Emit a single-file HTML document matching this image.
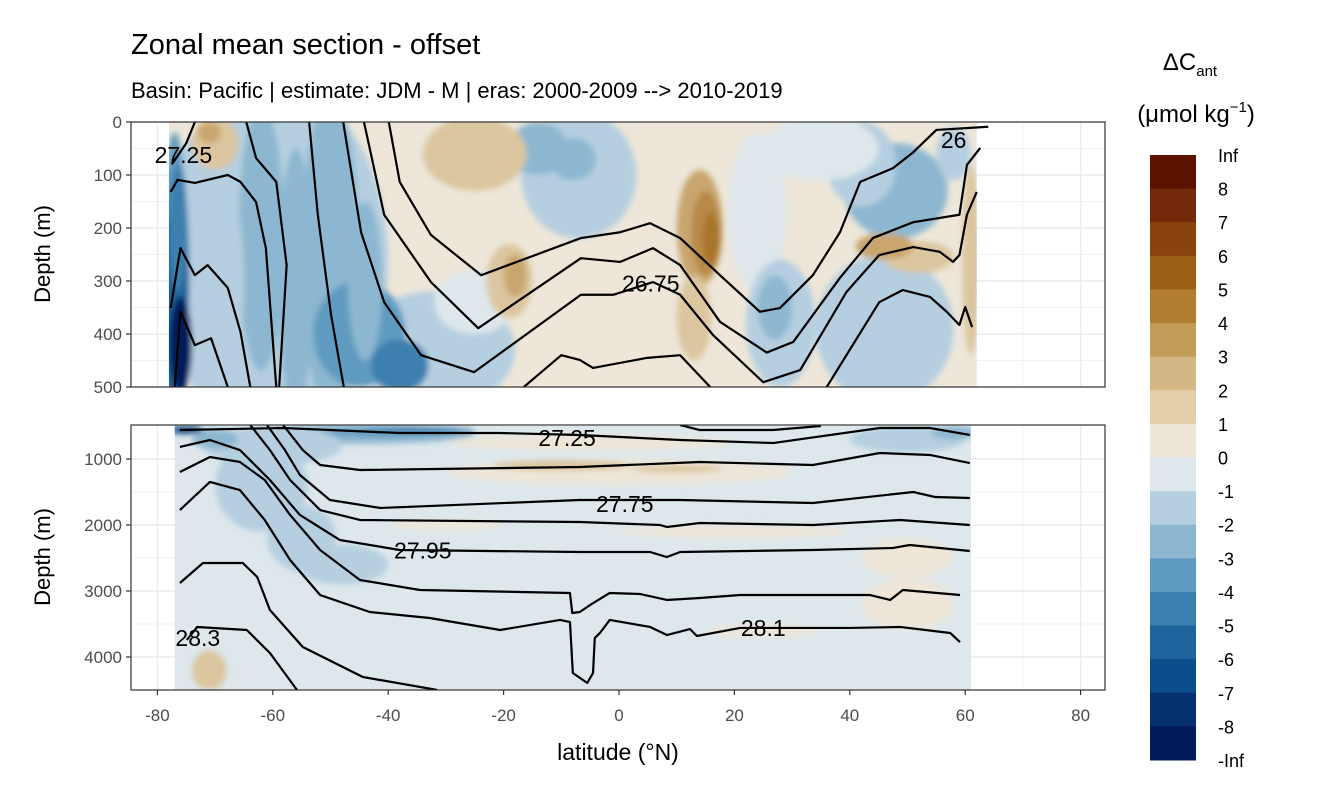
<!DOCTYPE html>
<html><head><meta charset="utf-8"><style>
html,body{margin:0;padding:0;background:#fff;}
svg{display:block;font-family:"Liberation Sans",sans-serif;}
</style></head><body>
<svg id="chart" width="1344" height="806" viewBox="0 0 1344 806" xmlns="http://www.w3.org/2000/svg">
<defs>
<filter id="blur" x="-20%" y="-20%" width="140%" height="140%"><feGaussianBlur stdDeviation="3"/></filter>
<clipPath id="clipTop"><rect x="131" y="122" width="974" height="265"/></clipPath>
<clipPath id="clipBot"><rect x="131" y="425" width="974" height="265"/></clipPath>
</defs>
<text x="131" y="54" font-size="29" fill="#000">Zonal mean section - offset</text>
<text x="131" y="98" font-size="22" fill="#000">Basin: Pacific | estimate: JDM - M | eras: 2000-2009 --&gt; 2010-2019</text>
<g id="panels"></g>
<text transform="translate(50,254) rotate(-90)" text-anchor="middle" font-size="22">Depth (m)</text>
<text transform="translate(50,557) rotate(-90)" text-anchor="middle" font-size="22">Depth (m)</text>
<text x="618" y="760" text-anchor="middle" font-size="23">latitude (°N)</text>
<text x="1190" y="70" text-anchor="middle" font-size="24">ΔC<tspan font-size="15" dy="6">ant</tspan></text>
<text x="1196" y="122" text-anchor="middle" font-size="24">(μmol kg<tspan font-size="15" dy="-10">−1</tspan><tspan dy="10">)</tspan></text>
<g id="legend"></g>
</svg>
<script>
const NS="http://www.w3.org/2000/svg";
const svg=document.getElementById('chart');
// ---- data ----
const legendLabels=['Inf','8','7','6','5','4','3','2','1','0','-1','-2','-3','-4','-5','-6','-7','-8','-Inf'];
const legendColors=['#5c1400','#74290a','#8a430c','#9c5f14','#b07e2e','#c39d58','#d3b784','#e2cfaa','#ede6d9','#dde7ec','#b5cfe0','#8db7d0','#5f9bc0','#3c80af','#1d649c','#0b4c8a','#062f70','#021b5c'];
const levelColor={p8:'#74290a',p7:'#8a430c',p6:'#9c5f14',p5:'#a8752a',p4:'#b8894a',p3:'#c9a66e',p2:'#dcc69f',p1:'#ede6d9',n1:'#dde7ec',n2:'#b5cfe0',n3:'#8db7d0',n4:'#5f9bc0',n5:'#3c80af',n6:'#1d649c',n7:'#0b4c8a',n8:'#021b5c'};
const xTicks=[-80,-60,-40,-20,0,20,40,60,80];
const topTicks=[0,100,200,300,400,500];
const botTicks=[1000,2000,3000,4000];
// blobs: [lat, depth, rlat, rdepth, level]
const topBlobs=[[-60,260,20,330,'n2'],[-32,430,14,110,'n2'],[-25,340,7,60,'n1'],[-50,250,5,300,'n3'],[-56,300,3,250,'n3'],[-62,220,4,250,'n3'],[-69,300,4,200,'n2'],[-45,400,8,100,'n4'],[-38,460,5,50,'n5'],[-44,300,3,150,'n3'],[-77,300,2.5,260,'n6'],[-77,120,1.5,100,'n4'],[-76,420,2,90,'n8'],[-76.5,200,1.5,120,'n5'],[-70,40,4,50,'p2'],[-71,20,2,20,'p3'],[-7,100,10,120,'n2'],[-8,70,4,40,'n3'],[-14,50,5,50,'n3'],[-25,60,9,70,'p2'],[-19,300,4,70,'p2'],[-18,290,2,40,'p3'],[14,200,4,110,'p3'],[15,210,2.5,80,'p4'],[16,220,1.5,50,'p5'],[13,370,3,80,'p2'],[24,170,5,150,'n1'],[28,380,6,120,'n2'],[27,350,3,60,'n3'],[46,390,12,140,'n2'],[48,130,9,90,'n3'],[42,80,6,80,'n2'],[35,50,10,60,'n1'],[58,60,3,50,'n2'],[52,255,6,30,'p2'],[46,235,5,25,'p3'],[61,260,1.5,180,'p2']];
const botBlobs=[[-45,620,20,150,'n3'],[-40,600,12,60,'n4'],[-35,560,10,40,'n5'],[-60,800,12,300,'n2'],[-62,1400,8,700,'n2'],[-55,2200,6,500,'n2'],[-48,2600,8,300,'n2'],[-75,560,3,60,'n7'],[-70,700,4,150,'n3'],[-5,750,25,120,'p1'],[0,1200,30,200,'p1'],[-10,1100,12,80,'p2'],[10,1150,8,60,'p2'],[20,2100,20,100,'p1'],[-30,2000,10,80,'p1'],[50,2500,8,300,'p1'],[50,3200,8,400,'p1'],[25,3600,10,100,'p1'],[-71,4200,3,300,'p2'],[50,700,10,200,'n2'],[58,600,4,100,'n3']];
// contour lines [lat, depth]
const cH=[[-39.9,0],[-38,113],[-32.6,213],[-23.9,289],[-6.6,219],[0.2,208],[5.4,191],[10.6,219],[17.5,289],[24.4,358],[27.9,351],[33.6,289],[38.3,208],[41.8,113],[47.5,87],[51,57],[55,15],[64,9]];
const cG=[[-44.2,0],[-40.7,175],[-32.6,302],[-24.4,389],[-6.6,257],[0.2,264],[5.9,238],[10.6,270],[17.5,377],[25.6,435],[30.2,415],[38.3,294],[44,219],[51,189],[59,175],[60.3,81],[62.6,49]];
const cF=[[-47.8,0],[-44.7,208],[-40.7,340],[-34.3,440],[-25.1,472],[-6.6,326],[-1,326],[5.9,302],[10.6,326],[16.3,402],[25,491],[31.4,468],[39.4,321],[45.1,251],[51,236],[55.6,245],[57.9,264],[59,251],[60.3,175],[62,132]];
const cI=[[-16.5,500],[-10,440],[-6.8,449],[-4.5,464],[4.9,445],[10.6,440],[15.8,500]];
const cJ=[[36,500],[45.1,340],[49.2,317],[53.9,330],[56.8,358],[59,383],[60,349],[61.2,387]];
const cE=[[-53.7,0],[-52.2,175],[-49.9,364],[-47.7,500]];
const cA=[[-64.6,0],[-62.9,68],[-59.4,113],[-57.6,270],[-58.9,500]];
const cB=[[-77.7,132],[-76.5,109],[-73.5,115],[-67.8,100],[-65.6,113],[-62.9,151],[-61.2,238],[-59.4,500]];
const cC=[[-77.7,351],[-76,238],[-73.5,289],[-71.3,270],[-67.8,313],[-65.6,396],[-63.9,500]];
const cD=[[-77,500],[-76,358],[-73.5,421],[-70.7,408],[-67.8,500]];
const cK=[[-73.5,0],[-75,40],[-77.5,80]];
const topLines=[cH,cG,cF,cI,cJ,cE,cA,cB,cC,cD,cK];
const b0=[[10.6,485],[14,561],[26.7,561],[35,500]];
const b1=[[-76.1,561],[-58.2,530],[-50.1,561],[-38,606],[-20.6,606],[-6.8,636],[10.6,712],[26.7,758],[45.2,530],[53.9,530],[60.8,636]];
const b2=[[-58.2,485],[-54.8,864],[-51.8,1091],[-44.9,1167],[-6.8,1121],[14,1045],[33.6,1091],[45.2,909],[53.9,939],[60.8,1061]];
const b3=[[-61,485],[-57.9,864],[-55.3,1242],[-50.1,1621],[-41.4,1742],[-6.8,1621],[10.6,1621],[33.6,1667],[51,1500],[54.8,1576],[60.8,1591]];
const b4=[[-63.9,485],[-60.5,864],[-57,1318],[-51.8,1773],[-44.9,1924],[-6.8,1955],[7.1,2000],[8.3,2030],[14,1970],[33.6,2000],[48.7,1924],[60.8,2000]];
const b5=[[-76.1,818],[-70.9,712],[-65.7,864],[-60.5,1318],[-55.3,1848],[-48.4,2227],[-38,2379],[-6.8,2409],[5.4,2409],[8.3,2485],[10.6,2409],[33.6,2379],[47.5,2348],[50.4,2303],[60.8,2394]];
const b6=[[-76.1,1197],[-70.9,970],[-65.7,1045],[-61.4,1318],[-57,1848],[-51.8,2379],[-44.9,2833],[-34.5,2985],[-8.5,3030],[-8.1,3333],[-6.8,3318],[-5,3212],[-1.6,3030],[3.6,3045],[8.3,3136],[14,3106],[21,3061],[43.5,3061],[47,3136],[49.2,2985],[59.1,3061]];
const b7=[[-76.1,1773],[-70.9,1348],[-65.7,1470],[-61.4,1924],[-57,2530],[-51.8,3061],[-43.2,3318],[-32.8,3409],[-20.6,3591],[-10.2,3439],[-8.5,3470],[-8,4242],[-5.5,4394],[-4.5,4242],[-4.2,3712],[-3.3,3636],[-1.6,3439],[5.4,3545],[8.3,3667],[12.3,3576],[13.5,3682],[21,3560],[40,3560],[48.7,3545],[57.4,3636],[59.1,3773]];
const b8=[[-76.1,2879],[-72.1,2576],[-65.2,2576],[-62.7,2788],[-60.5,3288],[-54.8,3848],[-44.4,4303],[-31.5,4500]];
const b9=[[-74.9,3742],[-73.1,3545],[-64.5,3591],[-60.5,3939],[-55.8,4500]];
const botLines=[b0,b1,b2,b3,b4,b5,b6,b7,b8,b9];
const topLabels=[['27.25',-75.5,62],['26',58,34],['26.75',5.5,305]];
const botLabels=[['27.25',-9,680],['27.75',1,1680],['27.95',-34,2390],['28.1',25,3560],['28.3',-73,3710]];
const topRange=[-78,62], botRange=[-77,61];
// ---- scales ----
const X=lat=>619+lat*5.77;
const YT=d=>122+d*0.53;
const YB=d=>459+(d-1000)*0.066;
function el(tag,attrs,parent){const e=document.createElementNS(NS,tag);for(const k in attrs)e.setAttribute(k,attrs[k]);(parent||svg).appendChild(e);return e;}
const panels=document.getElementById('panels');
function panel(name,y0,yScale,range,blobs,lines,labels,ticks,clip,baseColor,dmin,dmax){
  const g=el('g',{},panels);
  
  
  el('rect',{x:131,y:y0,width:974,height:265,fill:'#fff'},g);
  for(let v=-90;v<=90;v+=10){const x=X(v);if(x<131||x>1105)continue;const gl=el('line',{x1:x,x2:x,y1:y0,y2:y0+265,stroke:'#ebebeb','stroke-width':v%20===0?1.4:0.7},g);}
  ticks.forEach((t,i)=>{const y=yScale(t);el('line',{x1:131,x2:1105,y1:y,y2:y,stroke:'#ebebeb','stroke-width':1.4},g);if(i<ticks.length-1){const y2=(y+yScale(ticks[i+1]))/2;el('line',{x1:131,x2:1105,y1:y2,y2:y2,stroke:'#ebebeb','stroke-width':0.7},g);}});
  const cg=el('g',{'clip-path':'url(#'+clip+')'},g);
  const base=el('rect',{x:X(range[0]),y:yScale(dmin),width:X(range[1])-X(range[0]),height:yScale(dmax)-yScale(dmin),fill:baseColor},cg);
  
  
  const dataClip=el('clipPath',{id:clip+'d'},svg.querySelector('defs'));
  el('rect',{x:X(range[0]),y:y0,width:X(range[1])-X(range[0]),height:265},dataClip);
  const bg=el('g',{'clip-path':'url(#'+clip+'d)'},cg);
  const bf=el('g',{filter:'url(#blur)'},bg);
  blobs.forEach(b=>{const e=el('ellipse',{cx:X(b[0]),cy:yScale(b[1]),rx:b[2]*5.77,ry:Math.abs(yScale(b[1]+b[3])-yScale(b[1])),fill:levelColor[b[4]]},bf);
    
    });
  lines.forEach(l=>{const p=el('polyline',{points:l.map(q=>X(q[0])+','+yScale(q[1])).join(' '),fill:'none',stroke:'#000','stroke-width':2.2,'stroke-linejoin':'round'},cg);
    
    });
  labels.forEach(l=>{const t=el('text',{x:X(l[1]),y:yScale(l[2])+8,'text-anchor':'middle','font-size':23,fill:'#000'},cg);t.textContent=l[0];
    
    });
  el('rect',{x:131,y:y0,width:974,height:265,fill:'none',stroke:'#333','stroke-width':1.2},g);
  ticks.forEach(t=>{const y=yScale(t);el('line',{x1:126,x2:131,y1:y,y2:y,stroke:'#333','stroke-width':1.2},g);
    const tx=el('text',{x:122,y:y+6,'text-anchor':'end','font-size':17,fill:'#4d4d4d'},g);tx.textContent=t;
    
    });
}
panel('top-panel',122,YT,topRange,topBlobs,topLines,topLabels,topTicks,'clipTop','#ede6d9',0,500);
panel('bottom-panel',425,YB,botRange,botBlobs,botLines,botLabels,botTicks,'clipBot','#dde7ec',500,4500);
xTicks.forEach(v=>{const x=X(v);el('line',{x1:x,x2:x,y1:690,y2:695,stroke:'#333','stroke-width':1.2});
  const t=el('text',{x:x,y:721,'text-anchor':'middle','font-size':17,fill:'#4d4d4d'});t.textContent=v;
  
  });
const lg=document.getElementById('legend');
const lt=155,lh=(760-155)/legendColors.length;
legendColors.forEach((c,i)=>{const r=el('rect',{x:1150,y:lt+i*lh,width:46,height:lh+0.5,fill:c},lg);
  
  });
legendLabels.forEach((s,i)=>{const t=el('text',{x:1218,y:lt+i*lh+7,'font-size':18,fill:'#000'},lg);t.textContent=s;
  
  });
</script>
</body></html>
